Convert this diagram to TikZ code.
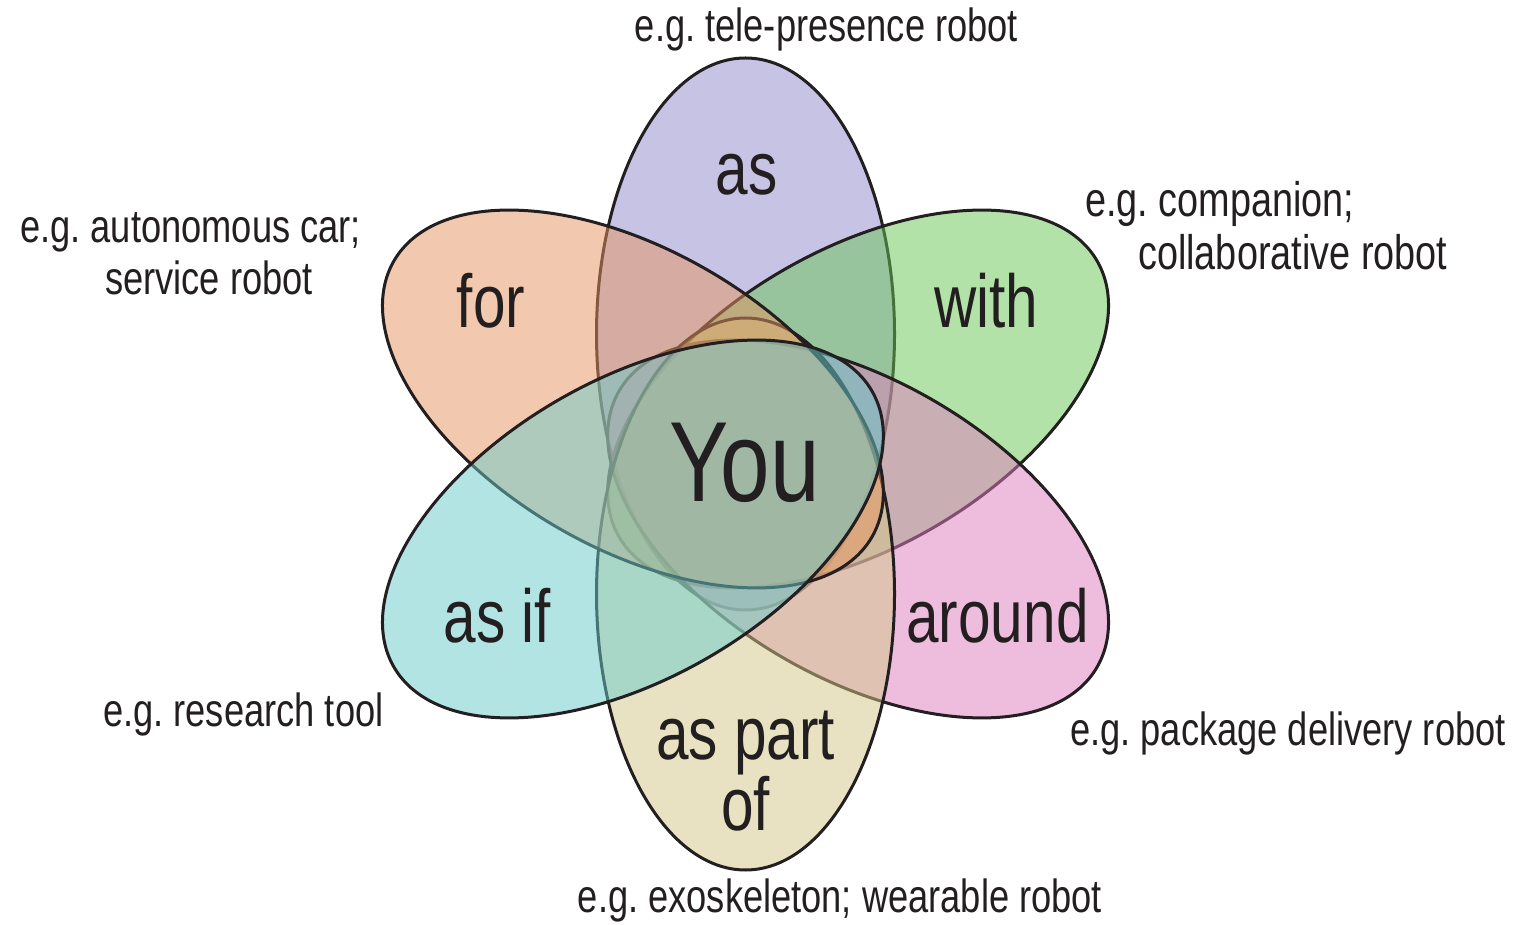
\documentclass[tikz,border=0pt]{standalone}
\usepackage{fontspec}
\setmainfont{Liberation Sans}[FakeStretch=0.78]
\frenchspacing
\begin{document}
\begin{tikzpicture}[x=1pt,y=1pt,
  petal/.style={draw=inkdark, line width=3pt, fill opacity=0.5},
  small/.style={inner sep=0pt, text=inkdark, font=\fontsize{46.5}{52.5}\selectfont},
  big/.style={inner sep=0pt, text=inkdark, font=\fontsize{75}{68}\selectfont},
]
\definecolor{inkdark}{RGB}{35,31,32}
\definecolor{cas}{RGB}{145,137,205}
\definecolor{cfor}{RGB}{230,148,96}
\definecolor{cwith}{RGB}{105,198,85}
\definecolor{caround}{RGB}{223,125,191}
\definecolor{cpart}{RGB}{211,199,137}
\definecolor{casif}{RGB}{105,203,203}

\useasboundingbox (0,0) rectangle (1514,924);
\fill[white] (0,0) rectangle (1514,924);

% six petals around the common centre (745.5,460), stacked bottom to top
\filldraw[petal, fill=cas] (745.5,590) ellipse [x radius=149, y radius=276];
\filldraw[petal, fill=cwith, rotate around={30:(858.1,525)}] (858.1,525) ellipse [x radius=276, y radius=149];
\filldraw[petal, fill=caround, rotate around={-30:(858.1,395)}] (858.1,395) ellipse [x radius=276, y radius=149];
\filldraw[petal, fill=cpart] (745.5,330) ellipse [x radius=149, y radius=276];
\filldraw[petal, fill=cfor, rotate around={-30:(632.9,525)}] (632.9,525) ellipse [x radius=276, y radius=149];
\filldraw[petal, fill=casif, rotate around={30:(632.9,395)}] (632.9,395) ellipse [x radius=276, y radius=149];

% petal labels (a multi-line node's base is its last line)
\node[big, anchor=base] (las) at (746.5,729) {as};
\node[big, anchor=base] (lfor) at (491,596) {for};
\node[big, anchor=base] (lwith) at (986.5,596) {with};
\node[big, anchor=base] (lasif) at (497.5,282) {as if};
\node[big, anchor=base] (laround) at (997.5,282) {around};
\node[big, anchor=base, align=center] (lpart) at (745.5,94) {as part\\of};
\node[inner sep=0pt, text=inkdark, font=\fontsize{114}{114}\selectfont, anchor=base] (lyou) at (744.5,422) {You};

% examples
\node[small, anchor=base] (etele) at (826.5,882) {e.g. tele-presence robot};
\node[small, anchor=base west, align=left] (eauto) at (20,629) {e.g. autonomous car;\\\hspace*{85pt}service robot};
\node[small, font=\fontsize{48.5}{53}\selectfont, anchor=base west, align=left] (ecomp) at (1085,654) {e.g. companion;\\\hspace*{53pt}collaborative robot};
\node[small, anchor=base west] (eresearch) at (103,198) {e.g. research tool};
\node[small, anchor=base west] (epackage) at (1070,179) {e.g. package delivery robot};
\node[small, anchor=base] (eexo) at (840,12) {e.g. exoskeleton; wearable robot};
\end{tikzpicture}
\end{document}
